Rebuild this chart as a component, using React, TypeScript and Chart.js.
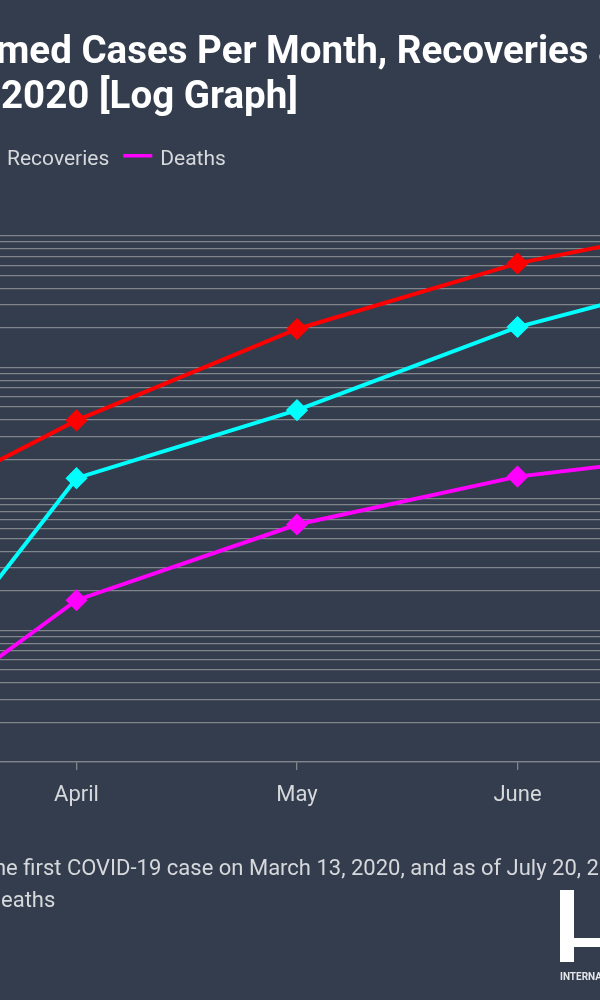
import React, { useEffect, useRef } from "react";
import { Chart, registerables } from "chart.js";

Chart.register(...registerables);

// ---------- data ----------
const MONTHS = ["March", "April", "May", "June", "July"];
const CONFIRMED = [54, 396, 1962, 6190, 13353];
const RECOVERIES = [1, 144, 474, 2030, 5616];
const DEATHS = [1, 17, 64, 148, 234];
const SERIES_NAMES = ["Confirmed Cases", "Recoveries", "Deaths"];
const SERIES_COLORS = ["#ff0000", "#00ffff", "#ff00ff"];

const Y_MIN = 1;
const Y_MAX = 10000;
const Y_DECADES = [1, 10, 100, 1000];
const Y_SIGNIFICANDS = [1, 2, 3, 4, 5, 6, 7, 8, 9];
const Y_LABELLED = [1, 10, 100, 1000, 10000];

const TITLE_LINE_1 = "Kenya: Confirmed Cases Per Month, Recoveries and Deaths, March - July";
const TITLE_LINE_2 = "2020 [Log Graph]";
const FOOTER_LINE_1 =
  "Kenya confirmed the first COVID-19 case on March 13, 2020, and as of July 20, 2020, it had 13,353 confirmed cases, 5,616 recoveries and 234";
const FOOTER_LINE_2 = "deaths";
const LOGO_TEXT = "INTERNATIONAL";

// ---------- style ----------
const BG = "#333d4d";
const GRID = "#80848b";
const TEXT = "#d6d8dc";
const FONT = "Roboto";
const CANVAS_W = 1100;
const CANVAS_H = 1000;
const SHIFT = 260; // canvas x = viewport x + SHIFT

const Y_TICKS: number[] = [];
Y_DECADES.forEach((d) => Y_SIGNIFICANDS.forEach((s) => Y_TICKS.push(s * d)));
Y_TICKS.push(Y_MAX);

function drawAnchored(ctx: CanvasRenderingContext2D, text: string, anchor: string, vx: number, y: number) {
  const idx = text.indexOf(anchor);
  const pre = ctx.measureText(text.slice(0, Math.max(0, idx))).width;
  ctx.fillText(text, vx + SHIFT - pre, y);
}

const overlayPlugin = {
  id: "overlay",
  afterDraw(chart: any) {
    const ctx: CanvasRenderingContext2D = chart.ctx;
    ctx.save();
    ctx.textAlign = "left";
    ctx.textBaseline = "alphabetic";

    // title
    ctx.fillStyle = "#ffffff";
    ctx.font = `bold 38.5px ${FONT}`;
    drawAnchored(ctx, TITLE_LINE_1, "med Cases", -4, 63);
    drawAnchored(ctx, TITLE_LINE_2, "2020", 1, 108);

    // legend
    ctx.font = `21px ${FONT}`;
    const LINE = 29, GAP = 8, ITEM_GAP = 14;
    const w = SERIES_NAMES.map((n) => ctx.measureText(n).width);
    const textX = [0, 7, 0];
    const lineX = [0, 7 - GAP - LINE, 0];
    textX[0] = lineX[1] - ITEM_GAP - w[0];
    lineX[0] = textX[0] - GAP - LINE;
    lineX[2] = textX[1] + w[1] + ITEM_GAP;
    textX[2] = lineX[2] + LINE + GAP;
    for (let i = 0; i < 3; i++) {
      ctx.fillStyle = SERIES_COLORS[i];
      ctx.fillRect(lineX[i] + SHIFT, 154, LINE, 3.5);
      ctx.fillStyle = TEXT;
      ctx.fillText(SERIES_NAMES[i], textX[i] + SHIFT, 165);
    }

    // footer
    ctx.fillStyle = TEXT;
    ctx.font = `22px ${FONT}`;
    drawAnchored(ctx, FOOTER_LINE_1, "he first", -6, 875);
    drawAnchored(ctx, FOOTER_LINE_2, "eaths", 1, 907);

    // logo
    ctx.fillStyle = "#ffffff";
    ctx.fillRect(560 + SHIFT, 890, 14, 72);
    ctx.fillRect(574 + SHIFT, 938, 46, 9);
    ctx.fillRect(620 + SHIFT, 890, 14, 72);
    ctx.fillStyle = "#e4e6ea";
    ctx.font = `bold 10px ${FONT}`;
    ctx.fillText(LOGO_TEXT, 560 + SHIFT, 980);
    ctx.restore();
  },
};

export default function App() {
  const ref = useRef<HTMLCanvasElement | null>(null);

  useEffect(() => {
    if (!ref.current) return;
    const chart = new Chart(ref.current, {
      type: "line",
      data: {
        labels: MONTHS,
        datasets: [CONFIRMED, RECOVERIES, DEATHS].map((d, i) => ({
          label: SERIES_NAMES[i],
          data: d,
          borderColor: SERIES_COLORS[i],
          backgroundColor: SERIES_COLORS[i],
          borderWidth: 4,
          pointStyle: "rectRot",
          pointRadius: 10,
          pointBorderWidth: 1.5,
          pointBackgroundColor: SERIES_COLORS[i],
          pointBorderColor: SERIES_COLORS[i],
          tension: 0,
          fill: false,
        })),
      },
      options: {
        responsive: false,
        animation: false,
        devicePixelRatio: 1,
        layout: { padding: { top: 236, bottom: 188, left: 16, right: 102 } },
        plugins: {
          legend: { display: false },
          title: { display: false },
          tooltip: { enabled: false },
        },
        scales: {
          x: {
            grid: { drawOnChartArea: false, drawTicks: true, tickLength: 8, color: GRID, lineWidth: 1.3 },
            border: { display: true, color: GRID, width: 1.3 },
            ticks: { color: TEXT, font: { family: FONT, size: 22 }, padding: 12, maxRotation: 0, autoSkip: false },
            afterFit: (s: any) => {
              s.height = 50;
            },
          },
          y: {
            type: "logarithmic",
            min: Y_MIN,
            max: Y_MAX,
            afterBuildTicks: (s: any) => {
              s.ticks = Y_TICKS.map((value) => ({ value }));
            },
            grid: { color: GRID, lineWidth: 1.3, drawTicks: false },
            border: { display: false },
            ticks: {
              autoSkip: false,
              color: TEXT,
              font: { family: FONT, size: 22 },
              padding: 12,
              callback: (v: any) => (Y_LABELLED.includes(Number(v)) ? Number(v).toLocaleString("en-US") : ""),
            },
            afterFit: (s: any) => {
              s.width = 100;
            },
          },
        },
      } as any,
      plugins: [overlayPlugin],
    });
    return () => chart.destroy();
  }, []);

  return (
    <div
      style={{
        position: "fixed",
        left: 0,
        top: 0,
        width: 600,
        height: 1000,
        overflow: "hidden",
        background: BG,
      }}
    >
      <canvas
        ref={ref}
        width={CANVAS_W}
        height={CANVAS_H}
        style={{ position: "absolute", left: -SHIFT, top: 0, width: CANVAS_W, height: CANVAS_H }}
      />
    </div>
  );
}
